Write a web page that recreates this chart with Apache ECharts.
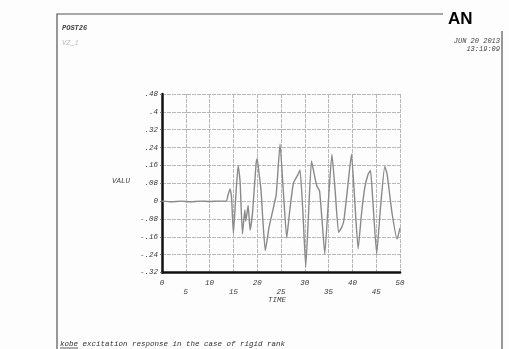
<!DOCTYPE html>
<html>
<head>
<meta charset="utf-8">
<script src="https://cdn.jsdelivr.net/npm/echarts@6/dist/echarts.min.js"></script>
<style>
  html, body { margin: 0; padding: 0; background: #fdfdfd; }
  #chart { width: 509px; height: 349px; }
</style>
</head>
<body>
<div id="chart"></div>
<script>
// time history
const times = [0, 2, 4, 6, 8, 10, 12, 13.5, 13.9, 14.3, 14.6, 15.0, 15.5, 16.0, 16.4, 16.9, 17.4, 17.6, 18.1, 18.5,
  19.0, 19.4, 19.8, 20.0, 20.3, 20.8, 21.2, 21.7, 22.5, 23.4, 24.0, 24.8, 25.5, 26.2, 26.8, 27.6, 28.6, 29.0, 29.6,
  30.2, 30.8, 31.4, 31.8, 32.5, 33.1, 33.6, 34.2, 34.9, 35.7, 36.4, 37.1, 37.7, 38.2, 39.0, 39.8, 40.5, 41.2, 41.9,
  42.6, 43.3, 43.8, 44.3, 45.1, 45.9, 46.8, 47.3, 48.3, 49.4, 50];
const values = [0, -0.003, 0, -0.003, 0, -0.002, 0, 0, 0.03, 0.055, 0.02, -0.145, 0.02, 0.16, 0.09, -0.147, -0.04,
  -0.09, -0.02, -0.13, -0.057, 0.06, 0.174, 0.19, 0.14, 0.05, -0.09, -0.222, -0.117, -0.03, 0.03, 0.256, 0.04, -0.165,
  -0.05, 0.08, 0.12, 0.14, -0.05, -0.295, -0.05, 0.18, 0.14, 0.07, 0.045, -0.08, -0.237, -0.02, 0.21, 0.04, -0.14,
  -0.12, -0.088, 0.06, 0.21, 0.0, -0.214, -0.06, 0.06, 0.12, 0.137, 0.0, -0.237, -0.03, 0.155, 0.12, -0.05, -0.17, -0.12];

const yMin = -0.32;
const yMax = 0.48;
const yStep = 0.08;
const xMin = 0;
const xMax = 50;
const xStep = 5;

const font = '"Liberation Mono", "DejaVu Sans Mono", monospace';
const ink = '#3a3a3a';

function yLabel(v) {
  const r = Math.round(v * 100) / 100;
  if (r === 0) return '0';
  return String(r).replace('0.', '.');
}

const chart = echarts.init(document.getElementById('chart'));

chart.setOption({
  backgroundColor: '#fdfdfd',
  animation: false,
  grid: { left: 162, right: 109, top: 94, bottom: 76.5 },
  xAxis: {
    type: 'value',
    min: xMin,
    max: xMax,
    interval: xStep,
    axisLine: { onZero: false, lineStyle: { color: '#111', width: 2.5 } },
    axisTick: { show: false },
    axisLabel: {
      color: ink,
      fontFamily: font,
      fontStyle: 'italic',
      fontSize: 7.5,
      lineHeight: 9,
      margin: 6,
      formatter: (v) => ((v / 5) % 2 ? '\n' + v : String(v)),
    },
    splitLine: { show: true, lineStyle: { color: '#b8b8b8', width: 1, type: [4, 1] } },
  },
  yAxis: {
    type: 'value',
    min: yMin,
    max: yMax,
    interval: yStep,
    axisLine: { show: true, onZero: false, lineStyle: { color: '#111', width: 2.5 } },
    axisTick: { show: true, length: 2, lineStyle: { color: '#777' } },
    axisLabel: {
      color: ink,
      fontFamily: font,
      fontStyle: 'italic',
      fontSize: 7.5,
      margin: 4,
      formatter: yLabel,
    },
    splitLine: { show: true, lineStyle: { color: '#b8b8b8', width: 1, type: [4, 1] } },
  },
  series: [
    {
      type: 'line',
      data: times.map((t, i) => [t, values[i]]),
      symbol: 'none',
      smooth: 0.15,
      lineStyle: { color: '#8a8a8a', width: 1.4 },
    },
  ],
  graphic: [
    // page frame
    { type: 'polyline', shape: { points: [[57, 349], [57, 14], [443, 14]] }, style: { stroke: '#555', lineWidth: 1.2, fill: null } },
    { type: 'line', shape: { x1: 502, y1: 31, x2: 502, y2: 349 }, style: { stroke: '#555', lineWidth: 1.2 } },
    { type: 'text', left: 448, top: 11, style: { text: 'AN', font: 'bold 17px "Liberation Sans", Arial, sans-serif', fill: '#000' } },
    { type: 'text', left: 62, top: 25, style: { text: 'POST26', font: 'italic bold 7px ' + font, fill: '#444' } },
    { type: 'text', left: 62, top: 40, style: { text: 'VZ_1', font: 'italic 7px ' + font, fill: '#bbb' } },
    { type: 'text', right: 9, top: 38, style: { text: 'JUN 20 2013', font: 'italic 7px ' + font, fill: '#444', align: 'right' } },
    { type: 'text', right: 9, top: 46, style: { text: '13:19:09', font: 'italic 7px ' + font, fill: '#444', align: 'right' } },
    { type: 'text', left: 112, top: 177, style: { text: 'VALU', font: 'italic 7.5px ' + font, fill: '#444' } },
    { type: 'text', left: 268, top: 296, style: { text: 'TIME', font: 'italic 7.5px ' + font, fill: '#444' } },
    { type: 'text', left: 60, top: 340, style: { text: 'kobe excitation response in the case of rigid rank', font: 'italic 7.5px ' + font, fill: '#333' } },
    { type: 'line', shape: { x1: 60, y1: 348, x2: 78, y2: 348 }, style: { stroke: '#333', lineWidth: 0.8 } },
  ],
});
</script>
</body>
</html>
